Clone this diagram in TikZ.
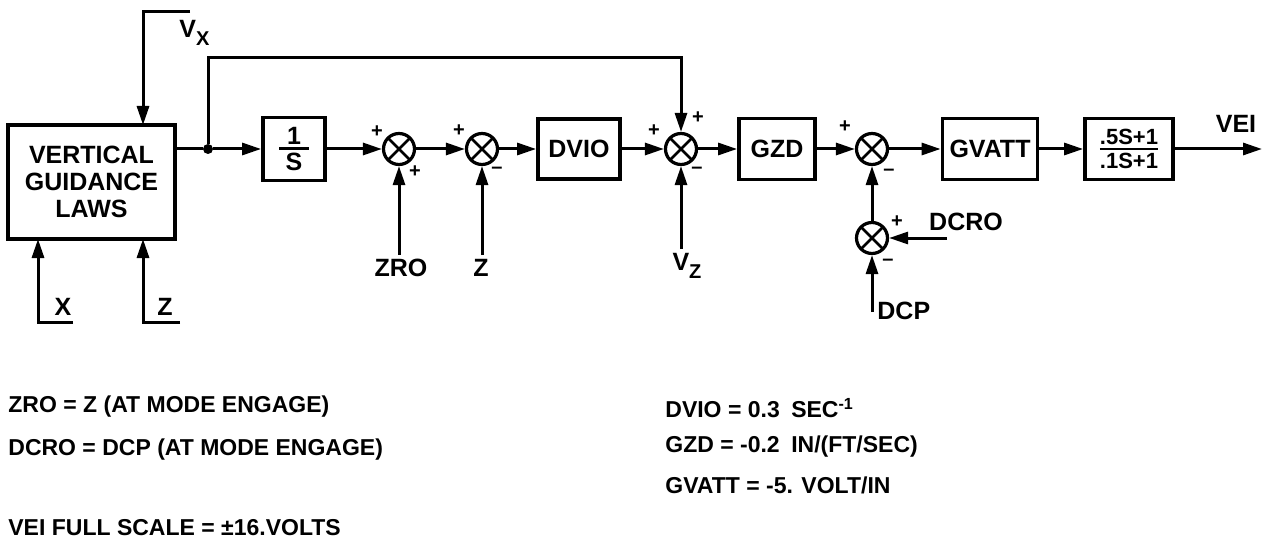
\documentclass[tikz,border=0pt]{standalone}
\usepackage{amsmath}
\usepackage{fontspec}
\setmainfont{Liberation Sans}
\usetikzlibrary{arrows.meta,positioning}
\tikzset{
  block/.style={draw, line width=1.9pt, align=center, inner sep=1pt, font=\bfseries\fontsize{12.5}{13.5}\selectfont},
  sumjn/.style={draw, circle, line width=1.6pt, minimum size=15.5pt, inner sep=0pt,
    path picture={\draw[line width=1.4pt] (path picture bounding box.south west) -- (path picture bounding box.north east)
      (path picture bounding box.north west) -- (path picture bounding box.south east);}},
  junc/.style={circle, fill, inner sep=0pt, minimum size=5pt},
  wire/.style={line width=1.5pt},
  flow/.style={-{Triangle[length=9.5pt, width=6pt]}, line width=1.5pt},
  lbl/.style={font=\bfseries\fontsize{12.5}{14}\selectfont, inner sep=2pt},
  sign/.style={font=\bfseries\fontsize{10}{10}\selectfont, inner sep=0pt},
  note/.style={anchor=west, inner sep=0pt, font=\bfseries\fontsize{11.5}{14}\selectfont}
}
\newcommand{\lowsub}[1]{\raisebox{-4pt}{\fontsize{10}{10}\selectfont #1}}

\begin{document}
\begin{tikzpicture}[x=0.5pt, y=-0.5pt]
  \useasboundingbox (0,0) rectangle (1275,540);

  % forward chain
  \node[block, minimum width=83.5pt, minimum height=57pt] (vgl) at (91.5,182) {VERTICAL\\GUIDANCE\\LAWS};
  \node[junc] (split) at (208,149) {};
  \node[block, minimum width=31pt, minimum height=31.5pt] (integ) at (294,149) {$\genfrac{}{}{1.3pt}{}{\makebox[15pt]{1}}{\makebox[15pt]{S}}$};
  \node[sumjn] (sumA) at (399,149) {};
  \node[sumjn] (sumB) at (482,149) {};
  \node[block, minimum width=41pt, minimum height=30pt] (dvio) at (579,149) {DVIO};
  \node[sumjn] (sumC) at (681,149) {};
  \node[block, minimum width=38pt, minimum height=30.5pt] (gzd) at (777,149) {GZD};
  \node[sumjn] (sumD) at (872,149) {};
  \node[block, minimum width=47.5pt, minimum height=30.5pt] (gvatt) at (990,149) {GVATT};
  \node[block, minimum width=44pt, minimum height=30.5pt, font=\bfseries\fontsize{11}{12}\selectfont] (lead) at (1129,149) {$\genfrac{}{}{1.3pt}{}{\mbox{.5S+1}}{\mbox{.1S+1}}$};
  \node[sumjn] (sumE) at (872,238) {};
  \coordinate (vei) at (1262,149);
  \coordinate (ffTop) at (208,58);

  \draw[wire] (vgl.east |- split) -- (split);
  \draw[flow] (split) -- (integ.west);
  \draw[flow] (split) -- (ffTop) -| (sumC.north);
  \draw[flow] (integ.east) -- (sumA.west);
  \draw[flow] (sumA.east) -- (sumB.west);
  \draw[flow] (sumB.east) -- (dvio.west);
  \draw[flow] (dvio.east) -- (sumC.west);
  \draw[flow] (sumC.east) -- (gzd.west);
  \draw[flow] (gzd.east) -- (sumD.west);
  \draw[flow] (sumD.east) -- (gvatt.west);
  \draw[flow] (gvatt.east) -- (lead.west);
  \draw[flow] (lead.east) -- (vei);
  \draw[flow] (sumE.north) -- (sumD.south);

  % inputs
  \coordinate (vxTail) at (190,12);
  \coordinate (vxHead) at (143,125);
  \coordinate (xTail) at (73,322);
  \coordinate (xHead) at (38,239);
  \coordinate (zTail) at (180,322);
  \coordinate (zHead) at (143,239);
  \coordinate (dcroTail) at (947,238);
  \coordinate (dcpTail) at (872,312);
  \draw[flow] (vxTail) -| (vxHead);
  \draw[flow] (xTail) -| (xHead);
  \draw[flow] (zTail) -| (zHead);
  \draw[flow] (dcroTail) -- (sumE.east);
  \draw[flow] (dcpTail) -- (sumE.south);

  \node[lbl, anchor=west] (vx) at (175,33) {V\lowsub{X}};
  \node[lbl] (xLbl) at (63,307) {X};
  \node[lbl] (zLbl) at (165,307) {Z};
  \node[lbl] (zro) at (401,268) {ZRO};
  \node[lbl] (zSum) at (481,268) {Z};
  \node[lbl] (vz) at (687,266) {V\lowsub{Z}};
  \node[lbl] (veiLbl) at (1236,124) {VEI};
  \node[lbl] (dcro) at (966,222) {DCRO};
  \node[lbl, anchor=west] (dcp) at (873,311) {DCP};
  \draw[flow] (zro.north -| sumA.south) -- (sumA.south);
  \draw[flow] (zSum.north -| sumB.south) -- (sumB.south);
  \draw[flow] (vz.north -| sumC.south) -- (sumC.south);

  % signs
  \node[sign] (sA1) at (377,132) {+};
  \node[sign] (sA2) at (415,172) {+};
  \node[sign] (sB1) at (459,131) {+};
  \node[sign] (sB2) at (497,170) {--};
  \node[sign] (sC1) at (654,131) {+};
  \node[sign] (sC2) at (698,118) {+};
  \node[sign] (sC3) at (697,170) {--};
  \node[sign] (sD1) at (845,127) {+};
  \node[sign] (sD2) at (889,172) {--};
  \node[sign] (sE1) at (897,222) {+};
  \node[sign] (sE2) at (888,262) {--};

  % notes
  \node[note] (n1) at (8,407) {ZRO = Z (AT MODE ENGAGE)};
  \node[note] (n2) at (8,450) {DCRO = DCP (AT MODE ENGAGE)};
  \node[note] (n3) at (8,528) {VEI FULL SCALE = ±16.VOLTS};
  \node[note] (n4) at (665,408) {DVIO = 0.3\enspace SEC\textsuperscript{-1}};
  \node[note] (n5) at (665,447) {GZD = -0.2\enspace IN/(FT/SEC)};
  \node[note] (n6) at (665,485) {GVATT = -5. VOLT/IN};
\end{tikzpicture}
\end{document}
